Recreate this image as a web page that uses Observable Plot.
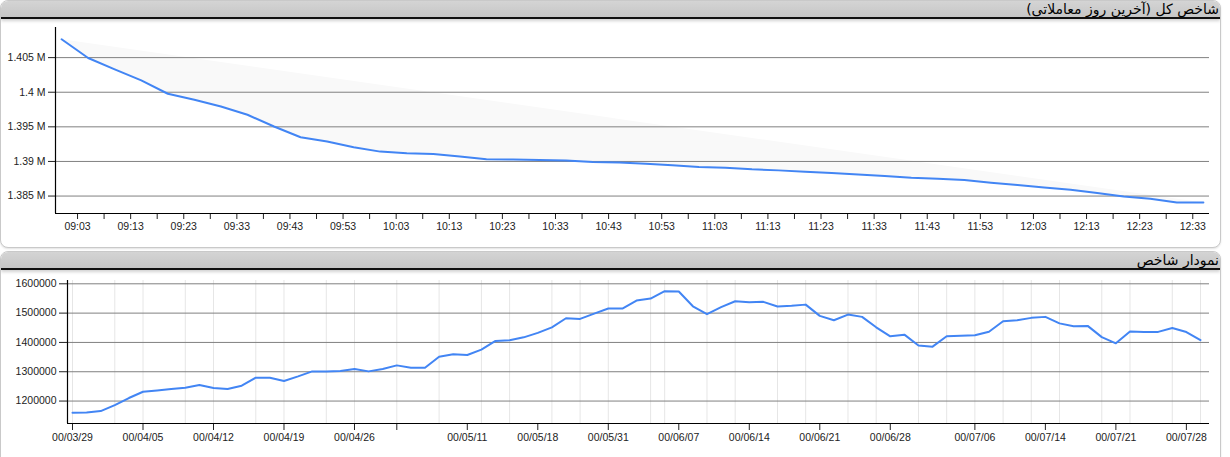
<!DOCTYPE html>
<html><head><meta charset="utf-8">
<script src="https://cdn.jsdelivr.net/npm/d3@7"></script>
<script src="https://cdn.jsdelivr.net/npm/@observablehq/plot@0.6"></script>
<style>
body{margin:0;background:#fff;width:1230px;height:457px;overflow:hidden;position:relative;font-family:"Liberation Sans",Arial,sans-serif;}
.panel{position:absolute;left:0;width:1219px;border:1px solid #c9c9c9;border-radius:8px;background:#fff;overflow:hidden;box-shadow:0 1px 2px rgba(0,0,0,.12);}
.hdr{position:absolute;left:0;right:0;top:0;height:16px;background:linear-gradient(#d4d4d4,#c6c6c6);border-bottom:2px solid #111;box-shadow:0 2px 3px rgba(0,0,0,.18);}
.hdr span{position:absolute;right:1px;top:-1px;font-family:"DejaVu Sans",sans-serif;font-size:14px;line-height:18px;direction:rtl;color:#000;white-space:nowrap;}
.chart{position:absolute;left:0;}
</style>
</head><body>
<div class="panel" style="top:0;height:246px"><div class="hdr"><span id="t1"></span></div></div>
<div class="panel" style="top:251px;height:230px"><div class="hdr"><span id="t2"></span></div></div>
<div class="chart" id="c1" style="top:19px"></div>
<div class="chart" id="c2" style="top:271px"></div>
<script>
// ---------- data: top chart (last trading day, intraday) ----------
const title1 = "شاخص کل (آخرین روز معاملاتی)";
const title2 = "نمودار شاخص";

const topTimes = ["09:00","09:05","09:10","09:15","09:20","09:25","09:30","09:35","09:40","09:45",
  "09:50","09:55","10:00","10:05","10:10","10:15","10:20","10:25","10:30","10:35",
  "10:40","10:45","10:50","10:55","11:00","11:05","11:10","11:15","11:20","11:25",
  "11:30","11:35","11:40","11:45","11:50","11:55","12:00","12:05","12:10","12:15",
  "12:20","12:25","12:30","12:35"];
const topValues = [1407650,1404940,1403300,1401710,1399780,1398910,1397940,1396740,1395050,1393500,
  1392870,1392050,1391420,1391180,1391090,1390700,1390310,1390270,1390220,1390120,
  1389930,1389830,1389680,1389440,1389210,1389100,1388860,1388710,1388520,1388330,
  1388130,1387900,1387650,1387510,1387320,1386930,1386600,1386250,1385920,1385440,
  1384950,1384610,1384080,1384080];
const topYTicks = [1385000,1390000,1395000,1400000,1405000];
const topYLabels = ["1.385 M","1.39 M","1.395 M","1.4 M","1.405 M"];
const topXTickTimes = ["09:03","09:08","09:13","09:18","09:23","09:28","09:33","09:38","09:43","09:48",
  "09:53","09:58","10:03","10:08","10:13","10:18","10:23","10:28","10:33","10:38","10:43","10:48",
  "10:53","10:58","11:03","11:08","11:13","11:18","11:23","11:28","11:33","11:38","11:43","11:48",
  "11:53","11:58","12:03","12:08","12:13","12:18","12:23","12:28","12:33"];
const topXLabels = ["09:03","09:13","09:23","09:33","09:43","09:53","10:03","10:13","10:23","10:33",
  "10:43","10:53","11:03","11:13","11:23","11:33","11:43","11:53","12:03","12:13","12:23","12:33"];

// ---------- data: bottom chart (daily index, trading-day index) ----------
const dailyValues = [1160000,1161000,1165800,1186300,1210300,1231800,1236200,1241000,1245500,1254700,
  1244400,1241000,1252300,1279700,1279700,1268400,1284100,1301200,1301200,1302600,
  1309400,1301200,1309400,1321700,1313800,1313800,1351400,1359300,1357300,1375400,
  1405100,1407200,1417400,1432500,1451600,1482400,1480300,1498500,1515600,1515600,
  1543000,1549700,1574700,1573600,1523400,1496500,1520500,1540500,1537100,1538500,
  1522400,1525000,1529000,1490600,1475600,1495000,1487200,1451600,1420900,1426500,
  1389500,1385600,1420900,1423200,1424300,1436400,1472100,1475600,1483800,1487200,
  1465000,1455000,1456400,1418000,1396900,1437400,1435900,1435900,1449000,1435500,
  1408000];
const dailyTickIndex = [0,5,10,15,20,23,28,33,38,43,48,53,58,64,69,74,79];
const dailyTickLabels = ["00/03/29","00/04/05","00/04/12","00/04/19","00/04/26","","00/05/11","00/05/18",
  "00/05/31","00/06/07","00/06/14","00/06/21","00/06/28","00/07/06","00/07/14","00/07/21","00/07/28"];
const dailyGridIndex = [0,3,5,8,10,13,15,18,20,23,26,29,31,34,36,38,41,42,45,47,50,52,55,57,60,62,64,66,68,70,73,75,78,80];
const dailyYTicks = [1200000,1300000,1400000,1500000,1600000];

// ---------- build ----------
document.getElementById("t1").textContent = title1;
document.getElementById("t2").textContent = title2;

const toMin = s => { const [h, m] = s.split(":").map(Number); return (h - 9) * 60 + m; };
const topData = topTimes.map((s, i) => ({t: toMin(s), v: topValues[i]}));
const topLabelSet = new Set(topXLabels);
const topYLabelMap = new Map(topYTicks.map((d, i) => [d, topYLabels[i]]));
const topXTickMin = topXTickTimes.map(toMin);
const BLUE = "#4285f4";
const FONT = "Liberation Sans, Arial, sans-serif";

const topX0 = -1.15, topX1 = 216.15, topY0 = 1382480, topY1 = 1409350;
const chartTop = Plot.plot({
  width: 1221, height: 226,
  marginLeft: 55, marginRight: 12, marginTop: 8, marginBottom: 32,
  style: {background: "transparent", fontFamily: FONT, fontSize: "11px", color: "#222", overflow: "visible"},
  x: {type: "linear", domain: [topX0, topX1]},
  y: {domain: [topY0, topY1]},
  marks: [
    Plot.line(topData, {x: "t", y: "v", fill: "#f9f9f9", stroke: "none"}),
    Plot.gridY({ticks: topYTicks, stroke: "#808080", strokeOpacity: 1}),
    Plot.axisY({ticks: topYTicks, tickFormat: d => topYLabelMap.get(d), tickSize: 7, tickPadding: 3, label: null, fontSize: 10.5, stroke: "#222"}),
    Plot.axisX({ticks: topXTickMin, tickFormat: d => { const s = topXTickTimes[topXTickMin.indexOf(d)]; return topLabelSet.has(s) ? s : ""; }, tickSize: 6, tickPadding: 3, label: null, fontSize: 10.5, stroke: "#222"}),
    Plot.ruleX([topX0], {stroke: "#000", strokeWidth: 1.2}),
    Plot.ruleY([topY0], {stroke: "#000", strokeWidth: 1.2}),
    Plot.line(topData, {x: "t", y: "v", stroke: BLUE, strokeWidth: 2})
  ]
});
document.getElementById("c1").appendChild(chartTop);

const dailyData = dailyValues.map((v, i) => ({i, v}));
const tickLabelMap = new Map(dailyTickIndex.map((d, k) => [d, dailyTickLabels[k]]));
const bX0 = -0.355, bX1 = 80.64, bY0 = 1123400, bY1 = 1611300;
const chartBottom = Plot.plot({
  width: 1221, height: 186,
  marginLeft: 67, marginRight: 12, marginTop: 9, marginBottom: 34,
  style: {background: "transparent", fontFamily: FONT, fontSize: "11px", color: "#222", overflow: "visible"},
  x: {type: "linear", domain: [bX0, bX1]},
  y: {domain: [bY0, bY1]},
  marks: [
    Plot.gridX({ticks: dailyGridIndex, stroke: "#e6e6e6", strokeOpacity: 1}),
    Plot.gridY({ticks: dailyYTicks, stroke: "#808080", strokeOpacity: 1}),
    Plot.axisY({ticks: dailyYTicks, tickFormat: d3.format("d"), tickSize: 8, tickPadding: 3, label: null, fontSize: 10.5, stroke: "#222"}),
    Plot.axisX({ticks: dailyTickIndex, tickFormat: d => tickLabelMap.get(d), tickSize: 7, tickPadding: 3, label: null, fontSize: 10.5, stroke: "#222"}),
    Plot.ruleX([bX0], {stroke: "#000", strokeWidth: 1.2}),
    Plot.ruleY([bY0], {stroke: "#000", strokeWidth: 1.2}),
    Plot.line(dailyData, {x: "i", y: "v", stroke: BLUE, strokeWidth: 2})
  ]
});
document.getElementById("c2").appendChild(chartBottom);
</script>
</body></html>
